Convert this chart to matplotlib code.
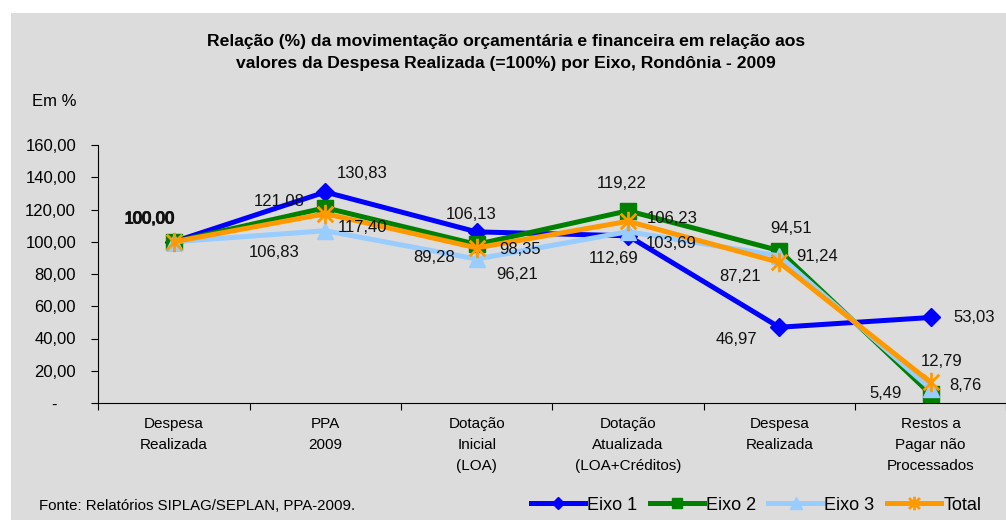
"""Relação (%) da movimentação orçamentária e financeira por Eixo, Rondônia - 2009."""

from __future__ import annotations

import matplotlib

matplotlib.use("Agg")
import matplotlib.pyplot as plt
from matplotlib.lines import Line2D
from matplotlib.patches import Rectangle
from matplotlib.path import Path


FONT = ["Liberation Sans", "Arial", "DejaVu Sans"]
BG = "#DCDCDC"

categories = [
    "Despesa\nRealizada",
    "PPA\n2009",
    "Dotação\nInicial\n(LOA)",
    "Dotação\nAtualizada\n(LOA+Créditos)",
    "Despesa\nRealizada",
    "Restos a\nPagar não\nProcessados",
]
eixo1 = [100.00, 130.83, 106.13, 103.69, 46.97, 53.03]
eixo2 = [100.00, 121.08, 98.35, 119.22, 94.51, 5.49]
eixo3 = [100.00, 106.83, 89.28, 106.23, 91.24, 8.76]
total = [100.00, 117.40, 96.21, 112.69, 87.21, 12.79]
series_names = ["Eixo 1", "Eixo 2", "Eixo 3", "Total"]
y_ticks = [0, 20, 40, 60, 80, 100, 120, 140, 160]

# label offsets in pixels (dx, dy), one row per series
LABEL_OFFSETS = [
    [(-25, 22), (37, 19), (-6, 17), (43, -8), (-43, -12), (44, 0)],
    [(-24, 22), (-46, 6), (43, -5), (-6, 27), (12, 22), (-45, 1)],
    [(-25, 23), (-51, -22), (-43, 2), (44, 13), (38, -1), (35, 3)],
    [(-24, 23), (37, -14), (40, -27), (-14, -37), (-39, -14), (11, 21)],
]

STAR = Path(
    [(0, -1), (0, 1), (-0.8, -0.8), (0.8, 0.8), (-0.8, 0.8), (0.8, -0.8)],
    [Path.MOVETO, Path.LINETO, Path.MOVETO, Path.LINETO, Path.MOVETO, Path.LINETO],
)

STYLES = [
    dict(color="#0000FF", marker="D", markersize=9),
    dict(color="#008000", marker="s", markersize=11),
    dict(color="#99CCFF", marker="^", markersize=12),
    dict(color="#FF9900", marker=STAR, markersize=14, markeredgewidth=2),
]


def fmt(v: float) -> str:
    return f"{v:.2f}".replace(".", ",")


def tick_fmt(v: float) -> str:
    # accounting style: zero shown as a dash, set in from the right
    if v == 0:
        return "-" + " " * 4
    return fmt(v)


def main() -> None:
    plt.rcParams["font.family"] = FONT
    fig = plt.figure(figsize=(10.06, 5.20), dpi=100, facecolor="white")
    fig.patches.append(
        Rectangle((11 / 1006, 0), 1, 1 - 13 / 520, transform=fig.transFigure,
                  facecolor=BG, edgecolor="none", zorder=-10)
    )

    ax = fig.add_axes([98.3 / 1006, 117 / 520, 908 / 1006, 258 / 520])
    ax.set_facecolor("none")
    x = list(range(len(categories)))
    data = [eixo1, eixo2, eixo3, total]

    for i, (vals, name, st) in enumerate(zip(data, series_names, STYLES)):
        ax.plot(x, vals, linewidth=3.6, label=name, markeredgecolor=st["color"],
                zorder=3 + i, clip_on=False, **st)
        for j, v in enumerate(vals):
            ax.annotate(fmt(v), (j, v), xytext=LABEL_OFFSETS[i][j],
                        textcoords="offset pixels", ha="center", va="center",
                        fontsize=12, color="#111111", zorder=10)

    ax.set_xlim(-0.5, len(categories) - 0.5)
    ax.set_ylim(0, 160)
    ax.set_yticks(y_ticks, [tick_fmt(v) for v in y_ticks], fontsize=12)
    ax.set_xticks([k + 0.5 for k in range(-1, len(categories))], minor=False)
    ax.set_xticklabels([])
    ax.set_xticks(x, categories, minor=True, fontsize=11, linespacing=1.65)
    ax.tick_params(axis="x", which="minor", length=0, pad=10)
    ax.tick_params(axis="x", which="major", length=5, direction="out")
    ax.tick_params(axis="y", length=5, pad=11, direction="out")
    for side in ("top", "right"):
        ax.spines[side].set_visible(False)
    ax.spines["left"].set_color("black")
    ax.spines["bottom"].set_color("black")

    fig.text(0.503, 1 - 52.5 / 520,
             "Relação (%) da movimentação orçamentária e financeira em relação aos\n"
             "valores da Despesa Realizada (=100%) por Eixo, Rondônia - 2009",
             ha="center", va="center", fontsize=12.6, fontweight="bold",
             linespacing=1.6)
    fig.text(32 / 1006, 1 - 101 / 520, "Em %", ha="left", va="center", fontsize=12)
    fig.text(39 / 1006, 1 - 506 / 520, "Fonte: Relatórios SIPLAG/SEPLAN, PPA-2009.",
             ha="left", va="center", fontsize=10.8)

    handles = [
        Line2D([], [], linewidth=3.6, markeredgecolor=st["color"],
               **{**st, "markersize": st["markersize"] * 0.7})
        for st in STYLES
    ]
    fig.legend(handles, series_names, loc="center left",
               bbox_to_anchor=(531 / 1006, 1 - 505 / 520), ncol=4, frameon=False,
               fontsize=13, handlelength=3.0, handletextpad=0.1,
               columnspacing=0.7, borderpad=0, borderaxespad=0)

    fig.savefig("out.png", dpi=100, facecolor=fig.get_facecolor())
    plt.close(fig)


if __name__ == "__main__":
    main()
